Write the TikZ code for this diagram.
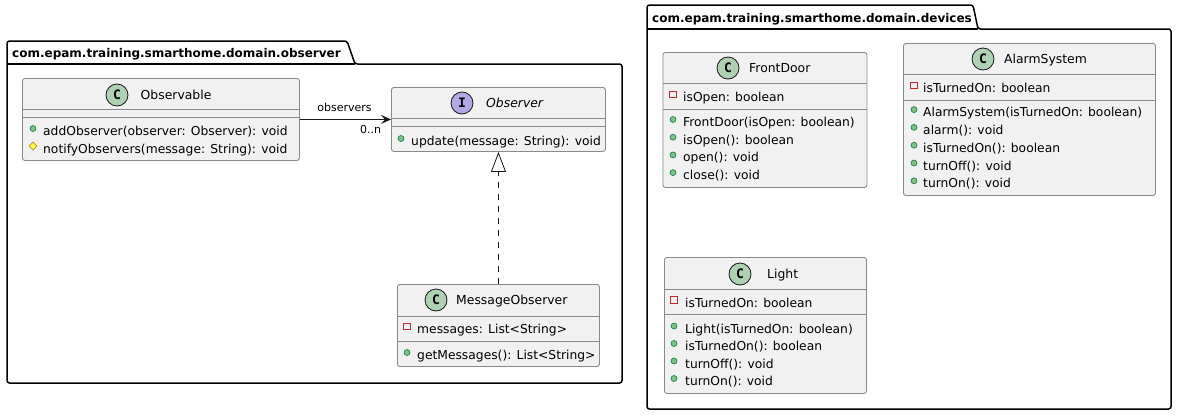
\documentclass[tikz,border=0pt]{standalone}
\usepackage{fontspec}
\setmainfont{DejaVu Sans}
\newfontfamily\iconfont{DejaVu Sans Mono}
\usetikzlibrary{arrows.meta,shapes.geometric}
\definecolor{umlfill}{HTML}{F1F1F1}
\definecolor{umlline}{HTML}{181818}
\definecolor{boxline}{HTML}{8A8A8A}
\definecolor{classic}{HTML}{ADD1B2}
\definecolor{ifaceic}{HTML}{B4A7E5}
\definecolor{pubfill}{HTML}{84BE84}
\definecolor{publine}{HTML}{038048}
\definecolor{privline}{HTML}{C82930}
\definecolor{protfill}{HTML}{FFFF44}
\definecolor{protline}{HTML}{B38D22}
\tikzset{
  classbox/.style={draw=boxline, fill=umlfill, line width=0.9pt, rounded corners=2.5pt, anchor=north west, inner sep=0pt},
  sepline/.style={draw=boxline, line width=0.9pt},
  kindicon/.style={circle, draw=umlline, line width=0.8pt, minimum size=22pt, inner sep=0pt, font=\iconfont\fontsize{13}{13}\selectfont\bfseries},
  classicon/.style={kindicon, fill=classic},
  ifaceicon/.style={kindicon, fill=ifaceic},
  classname/.style={anchor=base west, inner sep=0pt, font=\fontsize{12.4}{15}\selectfont},
  member/.style={anchor=base west, inner sep=0pt, font=\fontsize{12.3}{15}\selectfont},
  pubmark/.style={circle, draw=publine, fill=pubfill, line width=0.6pt, minimum size=6pt, inner sep=0pt},
  privmark/.style={rectangle, draw=privline, line width=1pt, minimum size=6.5pt, inner sep=0pt},
  protmark/.style={diamond, draw=protline, fill=protfill, line width=0.6pt, minimum size=8pt, inner sep=0pt},
  pkgframe/.style={draw=black, line width=1.5pt, fill=white, rounded corners=2.5pt},
  pkgtitle/.style={anchor=base west, inner sep=0pt, font=\fontsize{12}{14}\selectfont\bfseries},
  rolelabel/.style={inner sep=0pt, font=\fontsize{11}{13}\selectfont},
}
\begin{document}
\begin{tikzpicture}[x=1pt, y=-1pt]
\useasboundingbox (0,0) rectangle (1177,415);

\draw[pkgframe] (7,64) -- (7,41) -- (347,41) -- (355,64) -- (622,64) -- (622,383) -- (7,383) -- cycle;
\draw[black, line width=1.5pt] (7,64) -- (355,64);
\node[pkgtitle] (observer-pkg) at (12,57.3) {com.epam.training.smarthome.domain.observer};

\draw[pkgframe] (647,29) -- (647,5) -- (973,5) -- (978,29) -- (1171,29) -- (1171,409) -- (647,409) -- cycle;
\draw[black, line width=1.5pt] (647,29) -- (978,29);
\node[pkgtitle] (devices-pkg) at (652,22.3) {com.epam.training.smarthome.domain.devices};

\node[classbox, minimum width=277pt, minimum height=82pt] (observable) at (22,78) {};
\draw[sepline] (22,109) -- (299,109);
\draw[sepline] (22,117) -- (299,117);
\node[classicon] (observable-c) at (117,95) {C};
\node[classname] (observable-n) at (140.5,99.5) {Observable};
\node[member] (observable-m1) at (43,135.5) {addObserver(observer: Observer): void};
\node[pubmark] (observable-v1) at (33,128.5) {};
\node[member] (observable-m2) at (43,153.5) {notifyObservers(message: String): void};
\node[protmark] (observable-v2) at (33,146) {};

\node[classbox, minimum width=214pt, minimum height=64pt] (observer) at (391,87) {};
\draw[sepline] (391,118) -- (605,118);
\draw[sepline] (391,126) -- (605,126);
\node[ifaceicon] (observer-c) at (462,103) {I};
\node[classname] (observer-n) at (486,107.5) {\itshape Observer};
\node[member] (observer-m1) at (411,145.5) {update(message: String): void};
\node[pubmark] (observer-v1) at (401,138.5) {};

\node[classbox, minimum width=202pt, minimum height=82pt] (msgobserver) at (397,284) {};
\draw[sepline] (397,316) -- (599,316);
\draw[sepline] (397,341) -- (599,341);
\node[classicon] (msgobserver-c) at (436,300) {C};
\node[classname] (msgobserver-n) at (456,304.5) {MessageObserver};
\node[member] (msgobserver-a1) at (417,333.5) {messages: List<String>};
\node[privmark] (msgobserver-w1) at (407,326.5) {};
\node[member] (msgobserver-m1) at (417,359.5) {getMessages(): List<String>};
\node[pubmark] (msgobserver-v1) at (407,352.5) {};

\draw[-{Stealth[length=10pt, width=9pt, inset=4pt]}, umlline, line width=1pt] (observable) -- (observer);
\node[rolelabel] (observers-role) at (344.5,107) {observers};
\node[rolelabel] (observers-mult) at (370.5,129) {0..n};
\draw[-{Triangle[open, length=20pt, width=15pt]}, umlline, line width=0.8pt, dash pattern=on 6pt off 6pt] (msgobserver) -- (observer);

\node[classbox, minimum width=204pt, minimum height=135pt] (frontdoor) at (662.5,52) {};
\draw[sepline] (662.5,83) -- (866.5,83);
\draw[sepline] (662.5,109) -- (866.5,109);
\node[classicon] (frontdoor-c) at (728,68) {C};
\node[classname] (frontdoor-n) at (749,72.5) {FrontDoor};
\node[member] (frontdoor-a1) at (683,101.5) {isOpen: boolean};
\node[privmark] (frontdoor-w1) at (673,94.5) {};
\foreach \txt [count=\i] in {FrontDoor(isOpen: boolean), isOpen(): boolean, open(): void, close(): void} {
  \node[member] (frontdoor-m\i) at (683,108.8+17.7*\i) {\txt};
  \node[pubmark] (frontdoor-v\i) at (673,101.8+17.7*\i) {};
}

\node[classbox, minimum width=252pt, minimum height=152pt] (alarmsystem) at (903,43) {};
\draw[sepline] (903,74) -- (1155,74);
\draw[sepline] (903,100) -- (1155,100);
\node[classicon] (alarmsystem-c) at (983,59) {C};
\node[classname] (alarmsystem-n) at (1004,63.5) {AlarmSystem};
\node[member] (alarmsystem-a1) at (923,92.5) {isTurnedOn: boolean};
\node[privmark] (alarmsystem-w1) at (914,85.5) {};
\foreach \txt [count=\i] in {AlarmSystem(isTurnedOn: boolean), alarm(): void, isTurnedOn(): boolean, turnOff(): void, turnOn(): void} {
  \node[member] (alarmsystem-m\i) at (923,98.8+17.8*\i) {\txt};
  \node[pubmark] (alarmsystem-v\i) at (914,91.8+17.8*\i) {};
}

\node[classbox, minimum width=202pt, minimum height=136pt] (light) at (664,257) {};
\draw[sepline] (664,289) -- (866,289);
\draw[sepline] (664,314) -- (866,314);
\node[classicon] (light-c) at (740,274) {C};
\node[classname] (light-n) at (767,278.5) {Light};
\node[member] (light-a1) at (685,307.5) {isTurnedOn: boolean};
\node[privmark] (light-w1) at (674,300) {};
\foreach \txt [count=\i] in {Light(isTurnedOn: boolean), isTurnedOn(): boolean, turnOff(): void, turnOn(): void} {
  \node[member] (light-m\i) at (685,315.5+17.5*\i) {\txt};
  \node[pubmark] (light-v\i) at (674,308.5+17.5*\i) {};
}
\end{tikzpicture}
\end{document}
